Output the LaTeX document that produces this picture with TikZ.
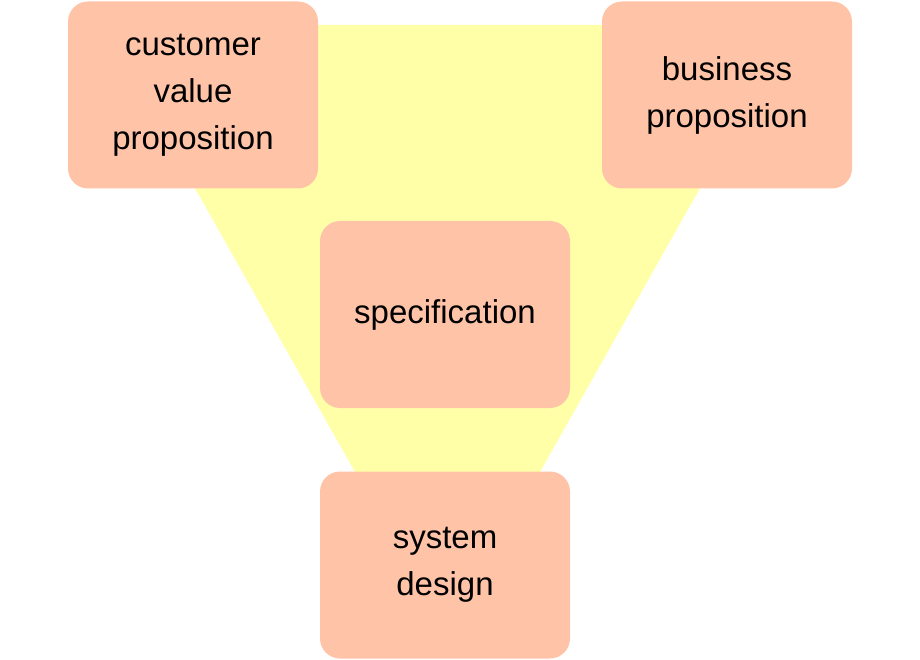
\documentclass[tikz,border=0pt]{standalone}
\usepackage{fontspec}
\setmainfont{Liberation Sans}
\definecolor{boxc}{HTML}{FFC4A8}
\definecolor{yel}{HTML}{FFFFA8}
\begin{document}
\begin{tikzpicture}[x=1pt,y=-1pt,
  box/.style={fill=boxc,draw=none,rounded corners=20pt,minimum width=250pt,minimum height=187pt,align=center,font=\fontsize{33}{47}\selectfont,inner sep=0pt}]
\useasboundingbox (0,0) rectangle (920,660);
\fill[yel] (103,25) -- (792,25) -- (540,472) -- (355,472) -- cycle;
\node[box] (cust) at (193,95) {customer\\value\\proposition};
\node[box] (bus) at (727,95) {business\\proposition};
\node[box] (spec) at (445,314.5) {specification};
\node[box] (sys) at (445,565) {system\\design};
\end{tikzpicture}
\end{document}
